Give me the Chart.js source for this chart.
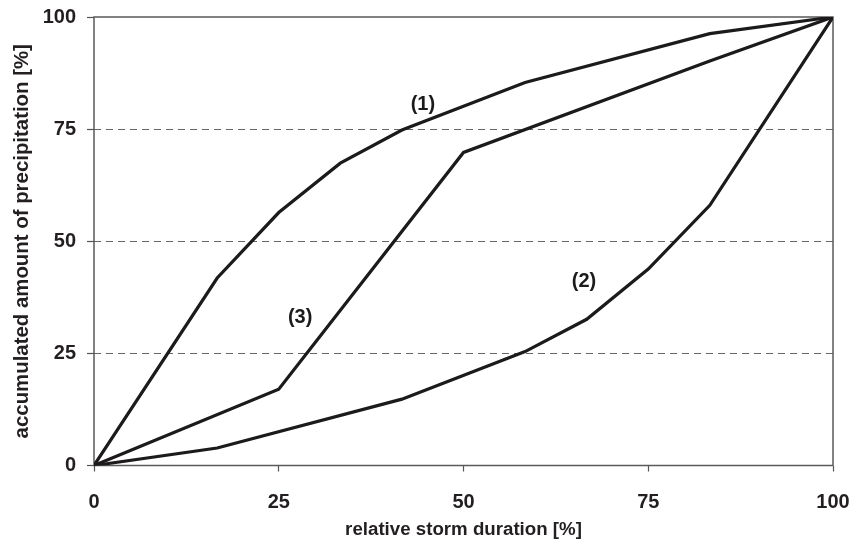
<!DOCTYPE html>
<html>
<head>
<meta charset="utf-8">
<script src="https://cdn.jsdelivr.net/npm/chart.js@4/dist/chart.umd.min.js"></script>
<style>
html,body{margin:0;padding:0;background:#fff;}
#wrap{width:853px;height:541px;}
</style>
</head>
<body>
<div id="wrap"><canvas id="c" width="853" height="541"></canvas></div>
<script>
const s1X = [0, 16.67, 25, 33.33, 41.67, 58.33, 83.33, 100];
const s1Y = [0, 41.8, 56.4, 67.4, 74.8, 85.4, 96.3, 100];
const s2X = [0, 16.67, 41.67, 58.33, 66.67, 75, 83.33, 100];
const s2Y = [0, 3.9, 14.8, 25.4, 32.6, 43.8, 58.0, 100];
const s3X = [0, 25, 50, 83.33, 100];
const s3Y = [0, 17.0, 69.8, 90.2, 100];
const labelTexts = ['(1)', '(2)', '(3)'];
const labelX = [44.5, 66.3, 27.9];
const labelY = [80.5, 41.0, 33.1];
const tickValues = [0, 25, 50, 75, 100];
const xTitle = 'relative storm duration [%]';
const yTitle = 'accumulated amount of precipitation [%]';

const FONT = 'Liberation Sans, Arial, sans-serif';
const LINE = '#1c1a1b';

function pts(xs, ys){ return xs.map((x,i)=>({x:x, y:ys[i]})); }
function ds(xs, ys){
  return {data: pts(xs, ys), showLine: true, borderColor: LINE, borderWidth: 3.2,
          pointRadius: 0, fill: false, tension: 0, borderJoinStyle: 'miter'};
}
function noPad(s){ s.paddingLeft = 0; s.paddingRight = 0; s.paddingTop = 0; s.paddingBottom = 0; }

const annot = {
  id: 'annot',
  beforeDatasetsDraw(chart){
    const {ctx, chartArea: a} = chart;
    ctx.save();
    ctx.strokeStyle = '#5a5a5a';
    ctx.lineWidth = 1.5;
    ctx.strokeRect(a.left, a.top, a.right - a.left, a.bottom - a.top);
    ctx.restore();
  },
  afterDatasetsDraw(chart){
    const {ctx, scales} = chart;
    ctx.save();
    ctx.fillStyle = '#1c1a1b';
    ctx.font = 'bold 20px ' + FONT;
    ctx.textAlign = 'center';
    ctx.textBaseline = 'middle';
    labelTexts.forEach((t,i)=>{
      ctx.fillText(t, scales.x.getPixelForValue(labelX[i]), scales.y.getPixelForValue(labelY[i]));
    });
    ctx.restore();
  }
};

new Chart(document.getElementById('c'), {
  type: 'scatter',
  data: { datasets: [ds(s1X, s1Y), ds(s2X, s2Y), ds(s3X, s3Y)] },
  plugins: [annot],
  options: {
    responsive: false,
    animation: false,
    layout: { padding: { top: 17, right: 20, left: 12.6, bottom: 2 } },
    plugins: { legend: { display: false }, tooltip: { enabled: false } },
    scales: {
      x: {
        type: 'linear', min: 0, max: 100,
        afterBuildTicks(s){ s.ticks = tickValues.map(v=>({value:v})); },
        afterFit(s){ s.height = 73.5; noPad(s); },
        grid: { drawOnChartArea: false, tickLength: 6, tickColor: '#555', tickWidth: 1.2 },
        border: { display: false },
        ticks: { color: '#231f20', padding: 18.5, font: { family: FONT, size: 20, weight: 'bold' }, maxRotation: 0 },
        title: { display: true, text: xTitle, color: '#231f20', padding: 0,
                 font: { family: FONT, size: 18.7, weight: 'bold', lineHeight: 1 } }
      },
      y: {
        type: 'linear', min: 0, max: 100,
        afterBuildTicks(s){ s.ticks = tickValues.map(v=>({value:v})); },
        afterFit(s){ s.width = 81.4; noPad(s); },
        grid: {
          color: (c)=> (c.tick && (c.tick.value === 0 || c.tick.value === 100)) ? 'rgba(0,0,0,0)' : '#666',
          lineWidth: 1, tickLength: 7, tickColor: '#555', tickWidth: 1.2
        },
        border: { display: false, dash: [7,5] },
        ticks: { color: '#231f20', padding: 11, font: { family: FONT, size: 20, weight: 'bold' } },
        title: { display: true, text: yTitle, color: '#231f20', padding: 0,
                 font: { family: FONT, size: 20.4, weight: 'bold', lineHeight: 1 } }
      }
    }
  }
});
</script>
</body>
</html>
